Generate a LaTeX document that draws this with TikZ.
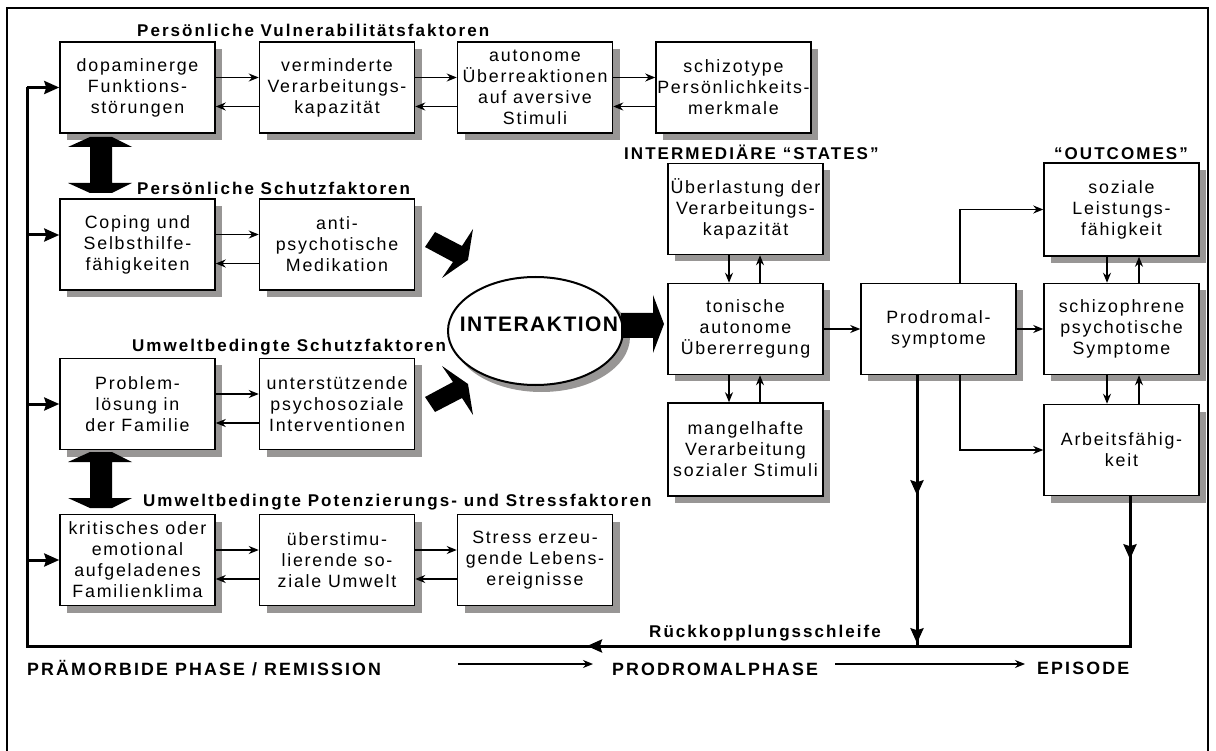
\documentclass[tikz,border=0pt]{standalone}
\usepackage{fontspec}
\setmainfont{Liberation Sans}
\newfontfamily\bxf[LetterSpace=10]{Liberation Sans}
\newfontfamily\hdf[LetterSpace=12]{Liberation Sans}
\newfontfamily\intf[LetterSpace=7]{Liberation Sans}
\usetikzlibrary{arrows.meta,shapes.geometric,calc}
\definecolor{shd}{RGB}{152,150,149}
% name, cx, cy, height, text
\newcommand{\mkbox}[5]{%
  \fill[shadowfill] ({#2-70.5},{#3-#4/2+7}) rectangle ({#2+84.5},{#3+#4/2+7});
  \node[box, minimum height=#4pt] (#1) at (#2,#3) {#5};}
\begin{document}
\begin{tikzpicture}[x=1pt,y=-1pt,
 box/.style={draw, line width=1.5pt, fill=white, minimum width=155pt, inner sep=0pt, align=center, font=\bxf\fontsize{17.8}{21}\selectfont},
 shadowfill/.style={fill=shd},
 hdr/.style={anchor=base west, inner sep=0pt, font=\hdf\bfseries\fontsize{17}{20}\selectfont},
 phase/.style={anchor=base west, inner sep=0pt, font=\hdf\bfseries\fontsize{17.8}{20}\selectfont},
 arr/.style={line width=1.2pt, -{Stealth[length=10pt,width=8pt]}},
 thk/.style={line width=3pt},
 thkarr/.style={line width=3pt, -{Stealth[length=15pt,width=13pt,inset=2pt]}},
 bigarrow/.style={fill=black},
]
\useasboundingbox (0,0) rectangle (1216,751);
\draw[line width=2pt] (7,760) -- (7,8) -- (1208,8) -- (1208,760);

% headers
\node[hdr] (h1) at (137,37) {Persönliche Vulnerabilitätsfaktoren};
\node[hdr] (h2) at (137,195) {Persönliche Schutzfaktoren};
\node[hdr] (h3) at (132,352) {Umweltbedingte Schutzfaktoren};
\node[hdr] (h4) at (143,506) {Umweltbedingte Potenzierungs- und Stressfaktoren};
\node[hdr] (h5) at (624,160) {INTERMEDIÄRE “STATES”};
\node[hdr] (h6) at (1054,160) {“OUTCOMES”};
\node[hdr] (h7) at (649,637) {Rückkopplungsschleife};

% boxes row 1
\mkbox{d1}{137.5}{87.5}{91}{dopaminerge\\Funktions-\\störungen}
\mkbox{v1}{337}{87.5}{91}{verminderte\\Verarbeitungs-\\kapazität}
\mkbox{a1}{535}{87.5}{91}{autonome\\Überreaktionen\\auf aversive\\Stimuli}
\mkbox{s1}{733.5}{87.5}{91}{schizotype\\Persönlichkeits-\\merkmale}
% row 2
\mkbox{c2}{137.5}{244.5}{91}{Coping und\\Selbsthilfe-\\fähigkeiten}
\mkbox{m2}{337}{244.5}{91}{anti-\\psychotische\\Medikation}
% row 3
\mkbox{p3}{137.5}{404}{91}{Problem-\\lösung in\\der Familie}
\mkbox{u3}{337}{404}{91}{unterstützende\\psychosoziale\\Interventionen}
% row 4
\mkbox{k4}{137.5}{560}{91}{kritisches oder\\emotional\\aufgeladenes\\Familienklima}
\mkbox{ue4}{337}{560}{91}{überstimu-\\lierende so-\\ziale Umwelt}
\mkbox{st4}{535}{560}{91}{Stress erzeu-\\gende Lebens-\\ereignisse}
% intermediate states
\mkbox{ul}{745.5}{209}{91}{Überlastung der\\Verarbeitungs-\\kapazität}
\mkbox{ton}{745.5}{329}{91}{tonische\\autonome\\Übererregung}
\mkbox{man}{745.5}{449.5}{93}{mangelhafte\\Verarbeitung\\sozialer Stimuli}
% prodromal
\mkbox{pro}{938.5}{329}{91}{Prodromal-\\symptome}
% outcomes
\mkbox{soz}{1121.5}{209.5}{93}{soziale\\Leistungs-\\fähigkeit}
\mkbox{sch}{1121.5}{329}{91}{schizophrene\\psychotische\\Symptome}
\mkbox{arb}{1121.5}{450}{91}{Arbeitsfähig-\\keit}

% interaction ellipse
\fill[shadowfill] (541.5,337) ellipse [x radius=88.5pt, y radius=55pt];
\node[ellipse, draw, line width=2pt, fill=white, minimum width=175pt, minimum height=108pt, inner sep=0pt] (int) at (535.5,331) {};
\node[anchor=base, inner sep=0pt, font=\intf\bfseries\fontsize{21}{24}\selectfont] (intl) at (539,332) {INTERAKTION};

% horizontal pair arrows
\foreach \a/\b in {d1/v1,v1/a1,a1/s1,c2/m2,p3/u3,k4/ue4,ue4/st4}{
  \draw[arr] ([yshift=10pt]\a.east) -- ([yshift=10pt]\b.west);
  \draw[arr] ([yshift=-19pt]\b.west) -- ([yshift=-19pt]\a.east);
}
% vertical pair arrows
\foreach \a/\b in {ul/ton,ton/man}{
  \draw[arr] ([xshift=-16.5pt]\a.south) -- ([xshift=-16.5pt]\b.north);
  \draw[arr] ([xshift=14.5pt]\b.north) -- ([xshift=14.5pt]\a.south);
}
\foreach \a/\b in {soz/sch,sch/arb}{
  \draw[arr] ([xshift=-14.5pt]\a.south) -- ([xshift=-14.5pt]\b.north);
  \draw[arr] ([xshift=17.5pt]\b.north) -- ([xshift=17.5pt]\a.south);
}
\draw[arr] (ton.east) -- (pro.west);
\draw[arr] (pro.east) -- (sch.west);
\draw[arr] ([xshift=21.5pt]pro.north) |- (soz.west);
\draw[arr] ([xshift=21.5pt]pro.south) |- (arb.west);

% double vertical arrows
\fill[bigarrow] (90,137) -- (112,137) -- (132,147) -- (112,147) -- (112,183) -- (132,183) -- (112,193) -- (90,193) -- (68,183) -- (90,183) -- (90,147) -- (68,147) -- cycle;
\fill[bigarrow] (90,452) -- (112,452) -- (132,462) -- (112,462) -- (112,498) -- (132,498) -- (112,508) -- (90,508) -- (68,498) -- (90,498) -- (90,462) -- (68,462) -- cycle;

% bent arrows
\fill[bigarrow] (425,247) -- (435,232) -- (462,246) -- (473,229) -- (468,260) -- (442,278) -- (453,262) -- cycle;
\fill[bigarrow] (425,397) -- (435,412) -- (462,398) -- (473,415) -- (468,384) -- (442,366) -- (453,382) -- cycle;

% arrow from interaction to tonic arousal
\fill[bigarrow] (621,313) -- (653,313) -- (653,295) -- (664,324) -- (653,353) -- (653,338) -- (621,338) -- cycle;

% feedback loop
\coordinate (fbx) at (27,646);
\coordinate (pb) at ([xshift=-21.5pt]pro.south);
\coordinate (ab) at ([xshift=8.5pt]arb.south);
\coordinate (fbtip) at (587,646);
\draw[thk] (pb) -- (pb |- fbx);
\draw[thkarr] (pb) -- ([yshift=-120pt]pb);
\draw[thkarr] (pb) -- ([yshift=-268pt]pb);
\draw[thk, line join=miter] (ab) -- (ab |- fbx) -- (fbx) -- (d1.west -| fbx);
\draw[thkarr] (ab) -- ([yshift=-63pt]ab);
\draw[thkarr] (ab |- fbx) -- (fbtip);
\draw[thkarr] (d1.west -| fbx) -- (d1.west);
\draw[thkarr] ([yshift=9.5pt]c2.west -| fbx) -- ([yshift=9.5pt]c2.west);
\draw[thkarr] (p3.west -| fbx) -- (p3.west);
\draw[thkarr] (k4.west -| fbx) -- (k4.west);

% phases
\node[phase] (ph1) at (27,675) {PRÄMORBIDE PHASE / REMISSION};
\node[phase] (ph2) at (612,675) {PRODROMALPHASE};
\node[phase] (ph3) at (1037,674) {EPISODE};
\coordinate (q1) at (458,664);
\coordinate (q2) at (593,664);
\coordinate (q3) at (835,664);
\coordinate (q4) at (1025,664);
\draw[arr] (q1) -- (q2);
\draw[arr] (q3) -- (q4);
\end{tikzpicture}
\end{document}
